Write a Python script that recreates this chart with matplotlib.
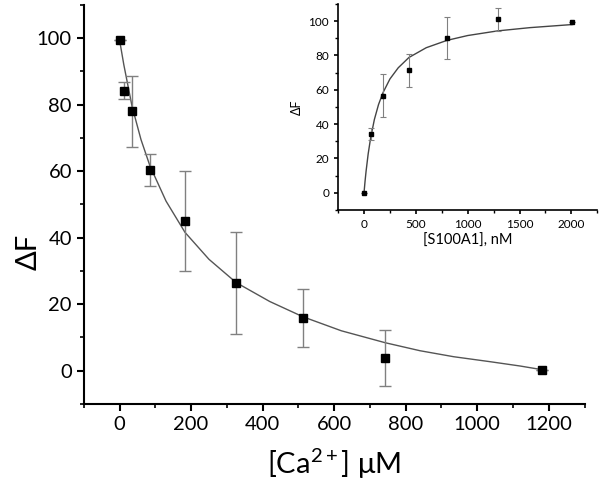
import numpy as np
import matplotlib
matplotlib.use("Agg")
import matplotlib.pyplot as plt
from matplotlib.ticker import MultipleLocator

plt.rcParams['font.family'] = ['Lato', 'DejaVu Sans']
plt.rcParams['mathtext.fontset'] = 'custom'
plt.rcParams['mathtext.rm'] = 'Lato'
plt.rcParams['mathtext.it'] = 'Lato:italic'

# main panel: Ca2+ titration
ca = [0, 12, 35, 85, 183, 326, 513, 743, 1181]
dF = [99.5, 84.2, 78.0, 60.4, 45.0, 26.3, 15.9, 3.8, 0.3]
dF_err = [0, 2.5, 10.7, 4.8, 15.0, 15.4, 8.7, 8.3, 0]
ca_fit = [0, 12, 35, 60, 85, 130, 183, 250, 326, 420, 513, 620, 743, 840, 934, 1036, 1120, 1181]
dF_fit = [99.5, 92, 79.5, 69.5, 61.6, 51, 41.6, 33.5, 26.5, 20.8, 16.2, 12, 8.4, 6, 4.2, 2.7, 1.4, 0.3]

# inset: S100A1 titration
s100 = [0, 64, 186, 433, 801, 1288, 2007]
dF2 = [0, 34.2, 56.5, 71.3, 90.3, 101, 99.6]
dF2_err = [0, 3.4, 12.6, 9.8, 12.3, 6.5, 0]
s100_fit = [0, 10, 20, 40, 64, 100, 140, 183, 250, 330, 433, 600, 801, 1000, 1288, 1600, 2007]
dF2_fit = [0, 6.7, 12.6, 22.6, 32, 42.7, 51.4, 58.3, 66.3, 72.8, 78.8, 84.5, 88.8, 91.6, 94.3, 96.2, 98]

fig = plt.figure(figsize=(6.07, 4.95), dpi=100)

ax = fig.add_axes([0.138, 0.184, 0.825, 0.806])
ax.plot(ca_fit, dF_fit, color='#555555', lw=1)
ax.errorbar(ca, dF, yerr=dF_err, fmt='s', color='black', ms=5.8,
            ecolor='#808080', elinewidth=1, capsize=4, capthick=1)
ax.set_xlim(-100, 1300)
ax.set_ylim(-10, 110)
ax.xaxis.set_major_locator(MultipleLocator(200))
ax.xaxis.set_minor_locator(MultipleLocator(100))
ax.yaxis.set_major_locator(MultipleLocator(20))
ax.yaxis.set_minor_locator(MultipleLocator(10))
for s in ['top', 'right']:
    ax.spines[s].set_visible(False)
for s in ['left', 'bottom']:
    ax.spines[s].set_linewidth(1.5)
ax.tick_params(which='major', length=5, width=1.5, labelsize=14.5)
ax.tick_params(which='minor', length=3, width=1.2)
ax.set_xlabel('[Ca$^{\\mathregular{2+}}$] μM', fontsize=21, labelpad=10)
ax.set_ylabel('ΔF', fontsize=21)
ax.yaxis.set_label_coords(-0.085, 0.38)

ins = fig.add_axes([0.557, 0.576, 0.427, 0.416])
ins.plot(s100_fit, dF2_fit, color='#444444', lw=1)
ins.errorbar(s100, dF2, yerr=dF2_err, fmt='s', color='black', ms=3,
             ecolor='#808080', elinewidth=0.8, capsize=2.5, capthick=0.8)
ins.set_xlim(-250, 2250)
ins.set_ylim(-10, 110)
ins.xaxis.set_major_locator(MultipleLocator(500))
ins.xaxis.set_minor_locator(MultipleLocator(250))
ins.yaxis.set_major_locator(MultipleLocator(20))
ins.yaxis.set_minor_locator(MultipleLocator(10))
for s in ['top', 'right']:
    ins.spines[s].set_visible(False)
for s in ['left', 'bottom']:
    ins.spines[s].set_linewidth(1.2)
ins.tick_params(which='major', length=3, width=1.2, labelsize=8.5)
ins.tick_params(which='minor', length=2, width=1)
ins.set_xlabel('[S100A1], nM', fontsize=10.5, labelpad=3)
ins.set_ylabel('ΔF', fontsize=9)

fig.savefig('out.png', dpi=100)
